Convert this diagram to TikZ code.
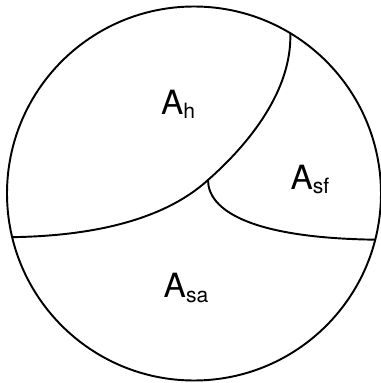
\documentclass[tikz,border=0pt]{standalone}
\usepackage{fontspec}
\setmainfont{TeX Gyre Heros}
\usepackage{tikz}
\usetikzlibrary{calc}
\newcommand{\lowidx}[1]{\raisebox{-0.25ex}{\fontsize{12}{14}\selectfont #1}}

\begin{document}
\begin{tikzpicture}[x=0.02cm,y=0.02cm,
  rim/.style={draw,line width=1.1pt},
  seam/.style={draw,line width=1.1pt,line cap=round},
  area/.style={font=\fontsize{19}{22}\selectfont,inner sep=0pt}
]
\useasboundingbox (0,0) rectangle (381,383);
\coordinate (c) at (194,189.5);
\draw[rim] (c) circle (187);
\coordinate (top) at ($(c)+(59:187)$);
\coordinate (lft) at ($(c)+(193.5:187)$);
\coordinate (rgt) at ($(c)+(-14.3:187)$);
\coordinate (fork) at (208,203);

\draw[seam] (top) .. controls (292,293) and (250,240) .. (fork)
  .. controls (163,162) and (90,147) .. (lft);
\draw[seam] (fork) .. controls (208,173) and (250,145) .. (rgt);

\node[area] (ah) at (178,278.5) {A\lowidx{h}};
\node[area] (asf) at (310,203.5) {A\lowidx{sf}};
\node[area] (asa) at (186,95) {A\lowidx{sa}};
\end{tikzpicture}
\end{document}
